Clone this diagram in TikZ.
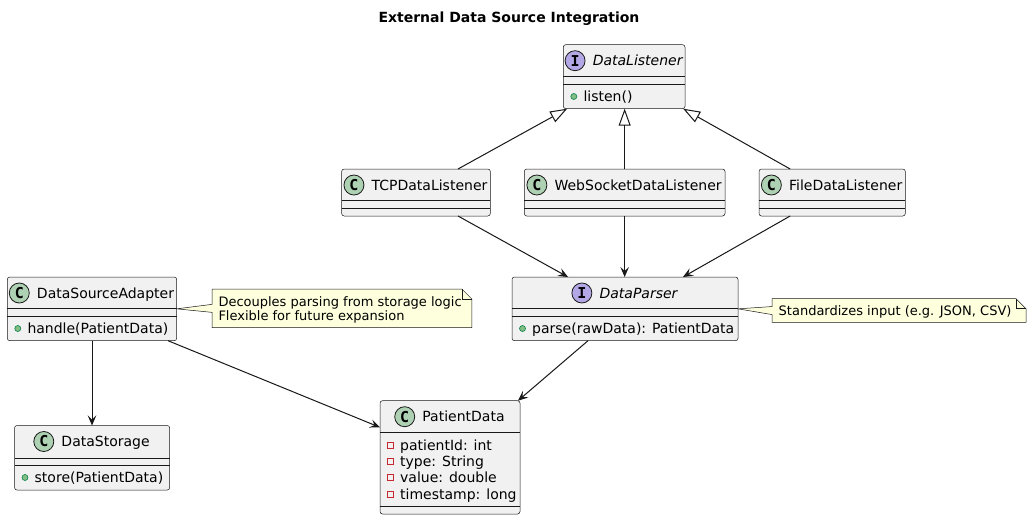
\documentclass[tikz,border=0pt]{standalone}
\usepackage{fontspec}
\setmainfont{DejaVu Sans}[ItalicFont={* Oblique}, BoldFont={* Bold}, BoldItalicFont={* Bold Oblique}]
\newfontfamily\spotfont{DejaVu Sans Mono}[BoldFont={* Bold}]
\usetikzlibrary{arrows.meta}
\definecolor{classfill}{HTML}{F1F1F1}
\definecolor{bordercol}{HTML}{181818}
\definecolor{cspotcol}{HTML}{ADD1B2}
\definecolor{ispotcol}{HTML}{B4A7E5}
\definecolor{notefill}{HTML}{FEFFDD}
\definecolor{pubfill}{HTML}{84BE84}
\definecolor{publine}{HTML}{038048}
\definecolor{privline}{HTML}{C82930}
\tikzset{
 classbox/.style={rectangle, draw=bordercol, fill=classfill, line width=0.5pt, rounded corners=2.5pt, inner sep=0pt, outer sep=0pt},
 sepline/.style={draw=bordercol, line width=0.5pt},
 nametext/.style={inner sep=0pt, font=\fontsize{14}{16}\selectfont},
 membertext/.style={inner sep=0pt, font=\fontsize{14}{16}\selectfont, anchor=base west},
 spotC/.style={circle, draw=bordercol, line width=0.8pt, fill=cspotcol, minimum size=20pt, inner sep=0pt, font=\spotfont\bfseries\fontsize{15}{15}\selectfont},
 spotI/.style={spotC, fill=ispotcol},
 pubicon/.style={circle, draw=publine, fill=pubfill, line width=0.6pt, minimum size=6pt, inner sep=0pt},
 privicon/.style={rectangle, draw=privline, line width=0.8pt, minimum size=6pt, inner sep=0pt},
 notearea/.style={rectangle, inner sep=0pt, outer sep=0pt},
 noteshape/.style={draw=bordercol, fill=notefill, line width=0.5pt, line join=miter},
 noteline/.style={draw=bordercol, line width=0.5pt},
 notetext/.style={inner sep=0pt, font=\fontsize{13}{15}\selectfont, anchor=base west},
 extends/.style={draw=bordercol, line width=1pt, -{Triangle[open, length=17pt, width=12pt]}},
 assoc/.style={draw=bordercol, line width=1pt, -{Stealth[length=10pt, width=8.5pt, inset=4pt]}},
 titletext/.style={inner sep=0pt, font=\bfseries\fontsize{14}{16}\selectfont},
}
% #1 id, #2 left, #3 top, #4 right, #5 bottom, #6 sep1, #7 sep2, #8 spot letter, #9 name
\newcommand\umlclass[9]{%
 \node[classbox, minimum width={(#4-#2)*1pt}, minimum height={(#5-#3)*1pt}] (#1) at ({(#2+#4)/2},{(#3+#5)/2}) {};
 \draw[sepline] (#2,#6) -- (#4,#6) (#2,#7) -- (#4,#7);
 \node[nametext, anchor=base] (#1-name) at ({(#2+#4)/2+13.5},{#3+21}) {#9};
 \node[spot#8] (#1-spot) at ([xshift=-17.5pt,yshift=5pt]#1-name.base west) {#8};
}
% #1 id, #2 left, #3 row centre, #4 text
\newcommand\pubmember[4]{%
 \node[pubicon] (#1-icon) at ({#2+10.5},#3) {};
 \node[membertext] (#1) at ({#2+20},{#3+5}) {#4};
}
\newcommand\privmember[4]{%
 \node[privicon] (#1-icon) at ({#2+10.5},#3) {};
 \node[membertext] (#1) at ({#2+20},{#3+5}) {#4};
}
\begin{document}
\begin{tikzpicture}[x=1pt, y=-1pt]
\fill[white] (0,0) rectangle (1032,520);
\useasboundingbox (0,0) rectangle (1032,520);

\node[titletext, anchor=base] (title) at (509,22) {External Data Source Integration};

% classes
\umlclass{dl}{563.3}{44.7}{685}{108.7}{76.7}{84.3}{I}{\itshape DataListener}
\pubmember{dl-m1}{563.3}{96.5}{listen()}

\umlclass{tcp}{341.7}{169}{490.3}{216}{200.7}{208.3}{C}{TCPDataListener}
\umlclass{ws}{524.3}{169}{725}{216}{200.7}{208.3}{C}{WebSocketDataListener}
\umlclass{fdl}{759}{169}{905.3}{216}{200.7}{208.3}{C}{FileDataListener}

\umlclass{dp}{512}{277}{738}{340.7}{308.7}{316.3}{I}{\itshape DataParser}
\pubmember{dp-m1}{512}{328.5}{parse(rawData): PatientData}

\umlclass{dsa}{7.3}{277}{176.7}{340.7}{308.7}{316.3}{C}{DataSourceAdapter}
\pubmember{dsa-m1}{7.3}{328.5}{handle(PatientData)}

\umlclass{ds}{14.5}{425.5}{169.7}{490}{457.8}{465.3}{C}{DataStorage}
\pubmember{ds-m1}{14.5}{477.5}{store(PatientData)}

\umlclass{pd}{380}{400.7}{520}{514}{432.7}{506.7}{C}{PatientData}
\privmember{pd-a1}{380}{445}{patientId: int}
\privmember{pd-a2}{380}{461.3}{type: String}
\privmember{pd-a3}{380}{477.6}{value: double}
\privmember{pd-a4}{380}{494}{timestamp: long}

% note 1 (its width follows its text)
\node[notetext] (n1-l1) at (218.3,306.4) {\phantom{Decouples parsing from storage logic}};
\coordinate (n1-ne) at ([xshift=10pt]n1-l1.east |- 0,289);
\filldraw[noteshape] (212,289) -- ([xshift=-10pt]n1-ne) -- ([yshift=-10pt]n1-ne)
  -- (n1-ne |- 0,327.7) -- (212,327.7) -- (212,312.35) -- (dsa.east) -- (212,304.35) -- cycle;
\draw[noteline] ([xshift=-10pt]n1-ne) -- ([xshift=-10pt,yshift=-10pt]n1-ne) -- ([yshift=-10pt]n1-ne);
\node[notetext] (n1-t1) at (218.3,306.4) {Decouples parsing from storage logic};
\node[notetext] (n1-t2) at (218.3,320.4) {Flexible for future expansion};

% note 2
\node[notearea, minimum width=254pt, minimum height=23.7pt] (n2) at (899,310.55) {};
\filldraw[noteshape] (n2.north west) -- ([xshift=-10pt]n2.north east) -- ([yshift=-10pt]n2.north east)
  -- (n2.south east) -- (n2.south west) -- ([yshift=-4pt]n2.west) -- (dp.east) -- ([yshift=4pt]n2.west) -- cycle;
\draw[noteline] ([xshift=-10pt]n2.north east) -- ([xshift=-10pt,yshift=-10pt]n2.north east) -- ([yshift=-10pt]n2.north east);
\node[notetext] (n2-l1) at (778.5,315.2) {Standardizes input (e.g. JSON, CSV)};

% connectors
\draw[extends] ([xshift=42pt]tcp.north) -- ([xshift=-57pt]dl.south);
\draw[extends] (ws.north) -- (ws.north |- dl.south);
\draw[extends] ([xshift=-42pt]fdl.north) -- ([xshift=59pt]dl.south);
\draw[assoc] ([xshift=42pt]tcp.south) -- ([xshift=-57pt]dp.north);
\draw[assoc] (ws.south) -- (ws.south |- dp.north);
\draw[assoc] ([xshift=-42pt]fdl.south) -- ([xshift=58pt]dp.north);
\draw[assoc] ([xshift=-37pt]dp.south) -- ([xshift=68pt]pd.north);
\draw[assoc] (dsa.south) -- (dsa.south |- ds.north);
\draw[assoc] ([xshift=76pt]dsa.south) -- ([yshift=30pt]pd.west);
\end{tikzpicture}
\end{document}
